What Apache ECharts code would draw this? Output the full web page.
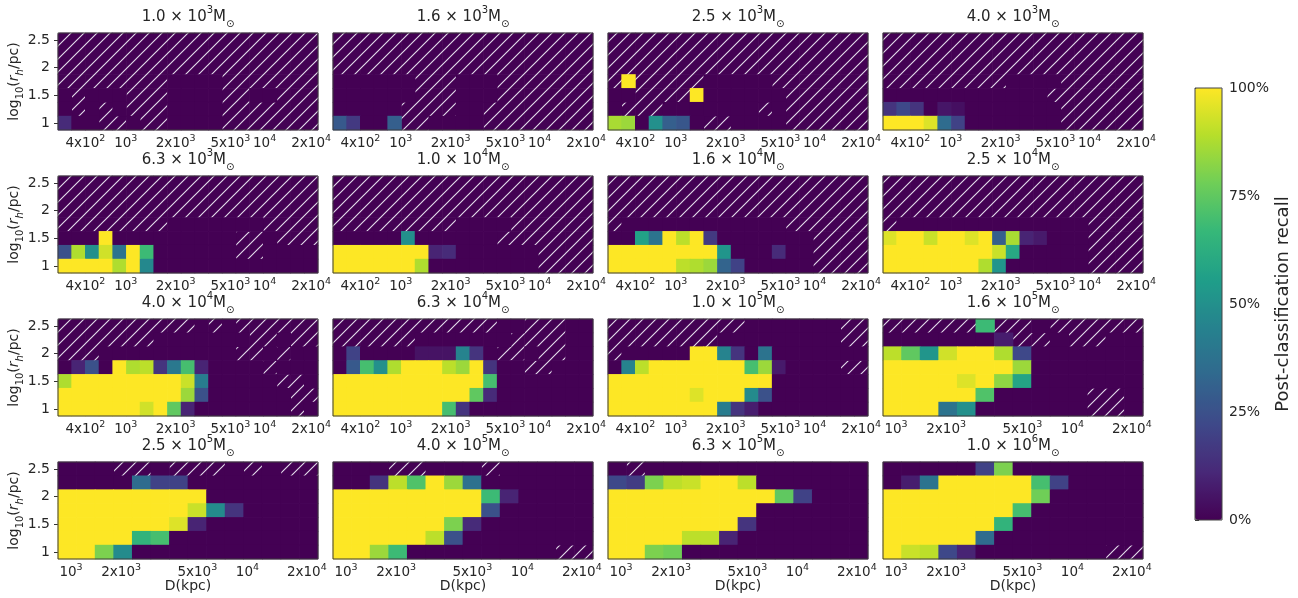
<!DOCTYPE html>
<html>
<head>
<meta charset="utf-8">
<title>Post-classification recall</title>
<script src="https://cdn.jsdelivr.net/npm/echarts@6.0.0/dist/echarts.min.js"></script>
<style>
html,body{margin:0;padding:0;background:#ffffff;}
#chart{width:1298px;height:598px;}
</style>
</head>
<body>
<div id="chart"></div>
<script>
// ---------------- DATA ----------------
const N = null; // no data (hatched cell)
const massMantissa = ['1.0','1.6','2.5','4.0','6.3','1.0','1.6','2.5','4.0','6.3','1.0','1.6','2.5','4.0','6.3','1.0'];
const massExponent = [3,3,3,3,3,4,4,4,4,4,5,5,5,5,5,6];
const rhCategories = ['1','1.25','1.5','1.75','2','2.25','2.5'];
const dTicksWide = ['4x10^2','10^3','2x10^3','5x10^3','10^4','2x10^4'];
const dTicksWideAt = [2.0,4.95,8.6,12.6,15.1,18.5];      // in D-bin units (19 bins)
const dTicksNarrow = ['10^3','2x10^3','5x10^3','10^4','2x10^4'];
const dTicksNarrowAt = [0.7,3.4,7.5,10.2,13.4];          // in D-bin units (14 bins)
const colorbarTicks = [0,25,50,75,100];

// recall grids: rows from log10(rh)=2.5 (top) down to 1.0 (bottom); columns = D bins
const recall_1_0e3 = [
 [N,N,N,N,N, N,N,N,N,N, N,N,N,N,N, N,N,N,N],
 [N,N,N,N,N, N,N,N,N,N, N,N,N,N,N, N,N,N,N],
 [N,N,N,N,N, N,N,N,N,N, N,N,N,N,N, N,N,N,N],
 [N,N,N,N,N, N,N,N,0,0, 0,0,N,N,N, N,N,N,N],
 [0,N,0,0,0, N,N,N,0,0, 0,0,N,N,0, 0,N,N,N],
 [0,N,0,N,0, N,N,N,0,0, 0,0,N,N,N, N,N,N,N],
 [.12,0,0,N,N, 0,N,N,0,0, 0,0,N,N,N, N,N,N,N]
];
const recall_1_6e3 = [
 [N,N,N,N,N, N,N,N,N,N, N,N,N,N,N, N,N,N,N],
 [N,N,N,N,N, N,N,N,N,N, N,N,N,N,N, N,N,N,N],
 [N,N,N,N,N, N,N,N,N,N, N,N,N,N,N, N,N,N,N],
 [0,0,0,0,0, 0,N,N,N,0, 0,0,N,N,N, N,N,N,N],
 [0,0,0,0,0, 0,N,N,N,0, 0,0,N,N,N, N,N,N,N],
 [0,0,0,0,0, N,N,N,N,0, 0,N,N,N,N, N,N,N,N],
 [.28,.17,0,0,.3, N,N,0,0,0, 0,N,N,N,N, N,N,N,N]
];
const recall_2_5e3 = [
 [N,N,N,N,N, N,N,N,N,N, N,N,N,N,N, N,N,N,N],
 [N,N,N,N,N, N,N,N,N,N, N,N,N,N,N, N,N,N,N],
 [N,N,N,N,N, N,N,N,N,N, N,N,N,N,N, N,N,N,N],
 [N,1,N,N,N, N,N,0,0,0, 0,0,N,N,N, N,N,N,N],
 [0,0,N,N,N, N,1,0,0,0, 0,0,0,N,N, N,N,N,N],
 [0,N,N,N,0, 0,0,0,0,0, 0,N,0,N,N, N,N,N,N],
 [.87,.85,0,.5,.3, .27,0,N,N,0, 0,0,0,N,N, N,N,N,N]
];
const recall_4_0e3 = [
 [N,N,N,N,N, N,N,N,N,N, N,N,N,N,N, N,N,N,N],
 [N,N,N,N,N, N,N,N,N,N, N,N,N,N,N, N,N,N,N],
 [N,N,N,N,N, N,N,N,N,N, N,N,N,N,N, N,N,N,N],
 [N,N,N,N,N, N,N,N,N,0, 0,0,0,N,N, N,N,N,N],
 [0,0,0,0,0, 0,0,0,0,0, 0,0,N,N,N, N,N,N,N],
 [.15,.22,.15,0,.06, .04,0,0,0,0, 0,0,0,N,N, N,N,N,N],
 [1,1,1,.95,.35, .2,0,0,0,0, 0,0,0,N,N, N,N,N,N]
];
const recall_6_3e3 = [
 [N,N,N,N,N, N,N,N,N,N, N,N,N,N,N, N,N,N,N],
 [N,N,N,N,N, N,N,N,N,N, N,N,N,N,N, N,N,N,N],
 [N,N,N,N,N, N,N,N,N,N, N,N,N,N,N, N,N,N,N],
 [N,N,N,N,N, N,N,N,0,0, 0,0,0,0,0, N,N,N,N],
 [0,0,0,1,0, 0,0,0,0,0, 0,0,0,N,N, 0,N,N,N],
 [.25,.88,.5,.93,.38, 1,.68,0,0,0, 0,0,0,N,N, 0,0,0,0],
 [1,1,1,1,.88, 1,.47,0,0,0, 0,0,0,0,0, 0,0,0,0]
];
const recall_1_0e4 = [
 [N,N,N,N,N, N,N,N,N,N, N,N,N,N,N, N,N,N,N],
 [N,N,N,N,N, N,N,N,N,N, N,N,N,N,N, N,N,N,N],
 [N,N,N,N,N, N,N,N,N,N, N,N,N,N,N, N,N,N,N],
 [N,N,N,N,N, N,N,N,N,0, 0,0,0,N,N, N,N,N,N],
 [0,0,0,0,0, .5,0,0,0,0, 0,0,N,N,N, N,N,N,N],
 [1,1,1,1,1, 1,1,.1,.12,0, 0,0,0,0,0, N,N,N,N],
 [1,1,1,1,1, 1,.88,0,0,0, 0,0,0,0,0, N,N,N,N]
];
const recall_1_6e4 = [
 [N,N,N,N,N, N,N,N,N,N, N,N,N,N,N, N,N,N,N],
 [N,N,N,N,N, N,N,N,N,N, N,N,N,N,N, N,N,N,N],
 [N,N,N,N,N, N,N,N,N,N, N,N,N,N,N, N,N,N,N],
 [N,0,0,0,0, 0,0,0,0,0, 0,0,0,N,N, N,N,N,N],
 [0,0,.57,.38,1, .9,1,.17,0,0, 0,0,0,0,0, N,N,N,N],
 [1,1,1,1,1, 1,1,1,.52,0, 0,0,.12,0,0, N,N,N,N],
 [1,1,1,1,1, .9,.88,.85,.32,.2, 0,0,0,0,0, N,N,N,N]
];
const recall_2_5e4 = [
 [N,N,N,N,N, N,N,N,N,N, N,N,N,N,N, N,N,N,N],
 [N,N,N,N,N, N,N,N,N,N, N,N,N,N,N, N,N,N,N],
 [N,N,N,N,N, N,N,N,N,N, N,N,N,N,N, N,N,N,N],
 [N,0,0,0,0, 0,0,0,0,0, 0,0,0,0,0, N,N,N,N],
 [.95,1,1,.92,1, 1,.95,1,.3,.87, .1,.07,0,0,0, N,N,N,N],
 [1,1,1,1,1, 1,1,1,.92,.6, 0,0,0,0,0, N,N,N,N],
 [1,1,1,1,1, 1,1,.88,.52,0, 0,0,0,0,0, N,N,N,N]
];
const recall_4_0e4 = [
 [N,N,N,N,N, N,N,N,N,N, 0,N,0,N,N, N,N,N,N],
 [N,N,N,N,N, N,N,0,0,0, 0,0,0,0,N, N,0,N,N],
 [N,N,N,0,0, 0,0,0,0,0, 0,0,0,N,N, 0,N,0,0],
 [0,.1,.25,0,1, .88,.9,.15,.4,.7, .1,0,0,0,0, N,0,0,0],
 [.88,1,1,1,1, 1,1,1,1,.92, .42,0,0,0,0, 0,N,N,0],
 [1,1,1,1,1, 1,1,1,1,.85, .25,0,0,0,0, 0,0,N,N],
 [1,1,1,1,1, 1,.93,1,.75,.1, 0,0,0,0,0, 0,0,N,0]
];
const recall_6_3e4 = [
 [N,N,N,N,N, N,N,N,N,N, N,N,0,0,N, N,N,0,0],
 [N,N,N,N,N, N,0,0,0,0, 0,0,0,N,N, N,N,0,0],
 [0,.2,0,0,0, 0,.05,.05,.05,.45, .15,0,N,N,0, N,N,0,0],
 [0,.28,.7,.5,.88, 1,1,1,.9,.85, 1,.15,0,0,N, N,0,0,0],
 [1,1,1,1,1, 1,1,1,1,1, 1,.7,0,0,0, 0,0,0,0],
 [1,1,1,1,1, 1,1,1,1,1, .75,.12,0,0,0, 0,0,0,0],
 [1,1,1,1,1, 1,1,1,.7,.15, 0,0,0,0,0, 0,0,0,0]
];
const recall_1_0e5 = [
 [N,N,N,N,N, N,N,N,N,N, 0,0,0,0,0, 0,0,N,N],
 [N,N,N,N,N, N,N,N,0,0, 0,0,0,0,0, 0,0,N,N],
 [N,0,0,0,0, 0,1,1,.45,.15, 0,.38,0,0,0, 0,0,0,0],
 [0,.45,.9,1,1, 1,1,1,1,1, .7,.85,.07,0,0, 0,0,N,N],
 [1,1,1,1,1, 1,1,1,1,1, 1,1,0,0,0, 0,0,0,0],
 [1,1,1,1,1, 1,.95,1,1,1, .48,.25,0,0,0, 0,0,0,0],
 [1,1,1,1,1, 1,1,1,.42,.15, .08,0,0,0,0, 0,0,0,0]
];
const recall_1_6e5 = [
 [N,N,N,N,N, .68,N,N,0,N, N,N,N,N],
 [0,0,0,0,0, 0,.08,N,N,0, N,N,0,0],
 [.9,.75,.52,.93,1, 1,.88,.22,0,0, 0,0,0,0],
 [1,1,1,1,1, 1,1,.85,0,0, 0,0,0,0],
 [1,1,1,1,.95, 1,.83,.58,0,0, 0,0,0,0],
 [1,1,1,1,1, .72,0,0,0,0, 0,N,N,0],
 [1,1,1,.38,.5, 0,0,0,0,0, 0,N,N,0]
];
const recall_2_5e5 = [
 [0,0,0,N,N, 0,N,N,N,0, N,0,N,N],
 [0,0,0,0,.35, .2,.2,0,0,0, 0,0,0,0],
 [1,1,1,1,1, 1,1,1,0,0, 0,0,0,0],
 [1,1,1,1,1, 1,1,.92,.48,.15, 0,0,0,0],
 [1,1,1,1,1, 1,.95,.1,0,0, 0,0,0,0],
 [1,1,1,1,.65, .7,0,0,0,0, 0,0,0,0],
 [1,1,.8,.48,0, 0,0,0,0,0, 0,0,0,0]
];
const recall_4_0e5 = [
 [0,0,0,N,N, 0,0,0,N,0, 0,0,0,0],
 [0,0,.15,.9,.72, 1,.85,.37,0,0, 0,0,0,0],
 [1,1,1,1,1, 1,1,1,.68,.1, 0,0,0,0],
 [1,1,1,1,1, 1,1,1,.25,0, 0,0,0,0],
 [1,1,1,1,1, 1,.8,.12,0,0, 0,0,0,0],
 [1,1,1,1,1, .9,.25,0,0,0, 0,0,0,0],
 [1,1,.85,.68,0, 0,0,0,0,0, 0,0,N,N]
];
const recall_6_3e5 = [
 [0,N,0,0,0, 0,0,0,0,0, 0,0,0,0],
 [.22,.18,.8,.9,.92, 1,1,.9,0,0, 0,0,0,0],
 [1,1,1,1,1, 1,1,1,1,.75, .2,0,0,0],
 [1,1,1,1,1, 1,1,1,0,0, 0,0,0,0],
 [1,1,1,1,1, 1,1,.15,0,0, 0,0,0,0],
 [1,1,1,1,.9, .9,.1,0,0,0, 0,0,0,0],
 [1,1,.8,.78,0, 0,0,0,0,0, 0,0,0,0]
];
const recall_1_0e6 = [
 [0,0,0,0,0, .2,.8,0,0,0, 0,0,0,0],
 [0,.08,.38,1,1, 1,1,1,.7,.2, 0,0,0,0],
 [1,1,1,1,1, 1,1,1,.78,0, 0,0,0,0],
 [1,1,1,1,1, 1,1,.7,0,0, 0,0,0,0],
 [1,1,1,1,1, 1,.65,0,0,0, 0,0,0,0],
 [1,1,1,1,1, .35,0,0,0,0, 0,0,0,0],
 [1,.92,.9,.22,.1, 0,0,0,0,0, 0,0,N,N]
];
const recallGrids = [
  recall_1_0e3, recall_1_6e3, recall_2_5e3, recall_4_0e3,
  recall_6_3e3, recall_1_0e4, recall_1_6e4, recall_2_5e4,
  recall_4_0e4, recall_6_3e4, recall_1_0e5, recall_1_6e5,
  recall_2_5e5, recall_4_0e5, recall_6_3e5, recall_1_0e6
];

// ---------------- RENDERING ----------------
const FONT = 'DejaVu Sans';
const TXT = '#262626';
const VIRIDIS = ['#440154','#482878','#3e4989','#31688e','#26828e','#1f9e89','#35b779','#6ece58','#b5de2b','#fde725'];
const LEFTS = [58, 333, 608, 883];
const TOPS = [33, 176, 319, 462];
const PW = 260, PH = 97;

function makeHatch() {
  const s = 13;
  const c = document.createElement('canvas');
  c.width = s; c.height = s;
  const g = c.getContext('2d');
  g.fillStyle = '#440154';
  g.fillRect(0, 0, s, s);
  g.strokeStyle = 'rgba(240,238,246,0.92)';
  g.lineWidth = 1.15;
  g.beginPath();
  g.moveTo(-2, s + 2); g.lineTo(s + 2, -2);
  g.moveTo(-2, 2); g.lineTo(2, -2);
  g.moveTo(s - 2, s + 2); g.lineTo(s + 2, s - 2);
  g.stroke();
  return c;
}
const hatchFill = { image: makeHatch(), repeat: 'repeat' };

function supText(s) { return s.replace(/\^(\d+)/g, '{s|$1}'); }
function nearestIdx(arr, v) {
  let b = 0;
  for (let i = 1; i < arr.length; i++) if (Math.abs(arr[i] - v) < Math.abs(arr[b] - v)) b = i;
  return b;
}
function cellRect(api, pad) {
  const pt = api.coord([api.value(0), api.value(1)]);
  const sz = api.size([1, 1]);
  return { x: pt[0] - sz[0] / 2 - pad, y: pt[1] - sz[1] / 2 - pad, width: sz[0] + 2 * pad, height: sz[1] + 2 * pad };
}

const option = {
  animation: false,
  backgroundColor: '#ffffff',
  textStyle: { fontFamily: FONT },
  grid: [], xAxis: [], yAxis: [], series: [], graphic: [], visualMap: []
};
const valueSeries = [];

for (let p = 0; p < 16; p++) {
  const r = Math.floor(p / 4), c = p % 4;
  const grid = recallGrids[p];
  const n = grid[0].length;
  const wide = n === 19;
  const tpos = wide ? dTicksWideAt : dTicksNarrowAt;
  const tlab = wide ? dTicksWide : dTicksNarrow;

  option.grid.push({
    left: LEFTS[c], top: TOPS[r], width: PW, height: PH,
    show: true, borderColor: '#3c3c3c', borderWidth: 1, backgroundColor: 'transparent',
    z: 10, containLabel: false, outerBoundsMode: 'none'
  });
  option.xAxis.push({
    type: 'category', gridIndex: p, show: false, boundaryGap: true,
    data: Array.from({ length: n }, (_, i) => String(i))
  });
  option.xAxis.push({
    type: 'value', gridIndex: p, min: 0, max: n, position: 'bottom',
    axisLine: { show: false }, axisTick: { show: false }, splitLine: { show: false },
    axisLabel: {
      customValues: tpos,
      formatter: (v) => supText(tlab[nearestIdx(tpos, v)]),
      margin: 4, fontSize: 13.5, color: TXT, fontFamily: FONT, lineHeight: 19,
      rich: { s: { fontSize: 9.5, lineHeight: 10, verticalAlign: 'top', color: TXT, fontFamily: FONT } }
    },
    name: r === 3 ? 'D(kpc)' : '', nameLocation: 'middle', nameGap: 20, nameMoveOverlap: false,
    nameTextStyle: { fontSize: 14, color: TXT, fontFamily: FONT }
  });
  option.yAxis.push({
    type: 'category', gridIndex: p, data: rhCategories, boundaryGap: true,
    axisLine: { show: false },
    axisTick: { show: c === 0, interval: 1, alignWithLabel: true, length: 4, lineStyle: { color: '#333' } },
    axisLabel: { show: c === 0, interval: 1, fontSize: 14, color: TXT, margin: 8, fontFamily: FONT },
    splitLine: { show: false },
    name: c === 0 ? 'log{sub|10}({it|r}{its|h}/pc)' : '',
    nameLocation: 'middle', nameRotate: 90, nameGap: 33, nameMoveOverlap: false,
    nameTextStyle: {
      fontSize: 14, color: TXT, fontFamily: FONT, lineHeight: 22,
      rich: {
        sub: { fontSize: 10, lineHeight: 12, verticalAlign: 'bottom', color: TXT, fontFamily: FONT },
        it: { fontSize: 14, fontStyle: 'italic', color: TXT, fontFamily: FONT },
        its: { fontSize: 10, lineHeight: 12, fontStyle: 'italic', verticalAlign: 'bottom', color: TXT, fontFamily: FONT }
      }
    }
  });

  const hatchCells = [], valueCells = [];
  grid.forEach((row, k) => {
    const yi = grid.length - 1 - k;
    row.forEach((v, xi) => {
      if (v === null) hatchCells.push([xi, yi]);
      else valueCells.push([xi, yi, v]);
    });
  });

  option.series.push({
    type: 'custom', xAxisIndex: 2 * p, yAxisIndex: p, silent: true, z: 1,
    data: hatchCells, encode: { x: 0, y: 1 },
    renderItem: (params, api) => ({
      type: 'rect', shape: cellRect(api, 0.3), style: { fill: hatchFill }
    })
  });
  option.series.push({
    type: 'custom', xAxisIndex: 2 * p, yAxisIndex: p, silent: true, z: 2,
    data: valueCells, encode: { x: 0, y: 1 },
    renderItem: (params, api) => {
      const col = api.visual('color');
      return { type: 'rect', shape: cellRect(api, 0.35), style: { fill: col, stroke: null } };
    }
  });
  valueSeries.push(option.series.length - 1);

  option.graphic.push({
    type: 'text', x: LEFTS[c] + PW / 2, y: TOPS[r] - 4, silent: true,
    style: {
      text: massMantissa[p] + ' × 10{sup|' + massExponent[p] + '}M{sub|⊙}',
      fontSize: 15, fontFamily: FONT, fill: TXT, lineHeight: 24,
      align: 'center', verticalAlign: 'bottom',
      rich: {
        sup: { fontSize: 10, lineHeight: 12, verticalAlign: 'top', fill: TXT, fontFamily: FONT },
        sub: { fontSize: 10, lineHeight: 12, verticalAlign: 'bottom', fill: TXT, fontFamily: FONT }
      }
    }
  });
}

// colorbar
option.visualMap.push({
  type: 'continuous', min: 0, max: 1, dimension: 2, seriesIndex: valueSeries,
  inRange: { color: VIRIDIS },
  left: 1195, top: 88, itemWidth: 27, itemHeight: 432,
  calculable: false, padding: 0, show: true, hoverLink: false, realtime: false
});
option.grid.push({
  left: 1195, top: 88, width: 27, height: 432, show: true, borderColor: '#444', borderWidth: 1,
  backgroundColor: 'transparent', z: 10, containLabel: false, outerBoundsMode: 'none'
});
option.xAxis.push({ type: 'value', gridIndex: 16, min: 0, max: 1, show: false });
option.yAxis.push({
  type: 'value', gridIndex: 16, min: 0, max: 100, position: 'right',
  axisLine: { show: false }, splitLine: { show: false },
  axisTick: { show: true, length: 4, customValues: colorbarTicks, lineStyle: { color: '#333' } },
  axisLabel: { customValues: colorbarTicks, formatter: '{value}%', fontSize: 14, color: TXT, margin: 7, fontFamily: FONT },
  name: 'Post-classification recall', nameLocation: 'middle', nameRotate: 90, nameGap: 52, nameMoveOverlap: false,
  nameTextStyle: { fontSize: 18, color: TXT, fontFamily: FONT }
});

const chart = echarts.init(document.getElementById('chart'), null, { renderer: 'canvas', devicePixelRatio: 1 });
chart.setOption(option);
</script>
</body>
</html>
